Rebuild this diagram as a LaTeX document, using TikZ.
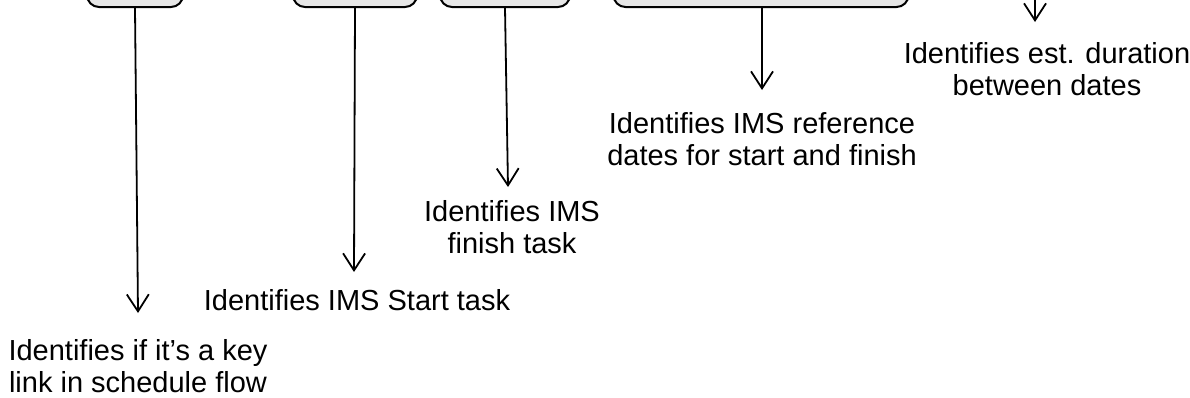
\documentclass[tikz,border=0pt]{standalone}
\usepackage{fontspec}
\setmainfont{Liberation Sans}
\usetikzlibrary{arrows.meta}
\definecolor{boxgray}{HTML}{E6E6E6}
\begin{document}
\begin{tikzpicture}[x=1pt,y=-1pt,
  box/.style={draw=black, line width=2pt, fill=boxgray, rounded corners=12pt,
              minimum height=60pt, inner sep=0pt},
  conn/.style={draw=black, line width=1.8pt,
               -{Straight Barb[length=17pt,width=22pt,line width=1.8pt]}},
  note/.style={font=\fontsize{29}{32}\selectfont, align=center, inner sep=0pt}]
\useasboundingbox (0,0) rectangle (1190,397);
\clip (0,0) rectangle (1190,397);

% field boxes along the top edge
\node[box, minimum width=96pt]  (b1) at (135,-23) {};
\node[box, minimum width=124pt] (b2) at (355,-23) {};
\node[box, minimum width=130pt] (b3) at (505,-23) {};
\node[box, minimum width=295pt] (b4) at (761,-23) {};
\coordinate (b5) at (1035,-10);

% descriptions
\node[note] (t1) at (138,366) {Identifies if it’s a key\\link in schedule flow};
\node[note] (t2) at (357,300) {Identifies IMS Start task};
\node[note] (t3) at (512,227) {Identifies IMS\\finish task};
\node[note] (t4) at (762,139) {Identifies IMS reference\\dates for start and finish};
\node[note] (t5) at (1047,69) {Identifies est. duration\\between dates};

% arrow tips just above each description
\coordinate (e1) at (138,313);
\coordinate (e2) at (354,272);
\coordinate (e3) at (508,187);
\coordinate (e4) at (762,90);
\coordinate (e5) at (1035,22);

\draw[conn] (b1.south) -- (e1);
\draw[conn] (b2.south) -- (e2);
\draw[conn] (b3.south) -- (e3);
\draw[conn] (b4.south -| e4) -- (e4);
\draw[conn] (b5) -- (e5);
\end{tikzpicture}
\end{document}
